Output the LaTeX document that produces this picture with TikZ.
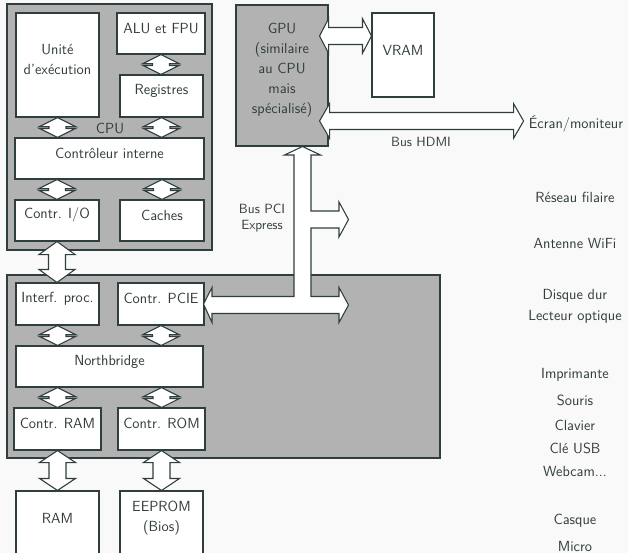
\documentclass[tikz,border=0pt]{standalone}
\usepackage{fontspec}
\usetikzlibrary{calc,fit}
\definecolor{bgc}{RGB}{249,249,249}
\definecolor{ln}{RGB}{47,62,62}
\definecolor{txt}{RGB}{50,60,60}
\definecolor{grayf}{RGB}{178,178,178}
\newcommand\vdarrow[3]{%
  \draw[dbl] let \p1=(#2), \p2=(#3) in
    (\x1,\y1) -- (\x1+13.5pt,\y1-#1*0.75pt) -- (\x1+6.375pt,\y1-#1*0.75pt)
    -- (\x1+6.375pt,\y2+#1*0.75pt) -- (\x1+13.5pt,\y2+#1*0.75pt) -- (\x1,\y2)
    -- (\x1-13.5pt,\y2+#1*0.75pt) -- (\x1-6.375pt,\y2+#1*0.75pt)
    -- (\x1-6.375pt,\y1-#1*0.75pt) -- (\x1-13.5pt,\y1-#1*0.75pt) -- cycle;}
\newcommand\hdarrow[3]{%
  \draw[dbl] let \p1=(#2), \p2=(#3) in
    (\x1,\y1) -- (\x1+#1*0.75pt,\y1+13pt) -- (\x1+#1*0.75pt,\y1+6.375pt)
    -- (\x2-#1*0.75pt,\y1+6.375pt) -- (\x2-#1*0.75pt,\y1+13pt) -- (\x2,\y1)
    -- (\x2-#1*0.75pt,\y1-13pt) -- (\x2-#1*0.75pt,\y1-6.375pt)
    -- (\x1+#1*0.75pt,\y1-6.375pt) -- (\x1+#1*0.75pt,\y1-13pt) -- cycle;}
\begin{document}
\begin{tikzpicture}[x=0.75pt,y=-0.75pt,
  every node/.style={font=\sffamily\fontsize{11}{15}\selectfont, text=txt},
  box/.style={draw=ln, line width=0.8pt, fill=white, inner sep=0pt, align=center},
  grp/.style={draw=ln, line width=0.8pt, fill=grayf, inner sep=0pt, align=center},
  dbl/.style={draw=ln, line width=0.8pt, fill=white, line join=miter},
  lbl/.style={inner sep=0pt, align=center},
  small/.style={font=\sffamily\fontsize{10}{12}\selectfont}]
\clip (0,0) rectangle (628,553);
\fill[bgc] (0,0) rectangle (628,553);

% CPU
\node[grp, fit={(7,4)(212,250)}] (cpu) {};
\node[box, fit={(16,13)(99,117)}] (unite) {Unité\\d'exécution};
\node[box, fit={(117,13)(205,54)}] (alu) {ALU et FPU};
\node[box, fit={(120,75)(203,117)}] (reg) {Registres};
\node[box, fit={(15,138)(204,179)}] (ctrlint) {Contrôleur interne};
\node[box, fit={(15,200)(99,241)}] (ctrlio) {Contr. I/O};
\node[box, fit={(120,200)(204,241)}] (caches) {Caches};
\node[lbl] (cpulbl) at (110,128) {CPU};

% chipset
\node[grp, fit={(7,275)(440,458)}] (chipset) {};
\node[box, fit={(16,283)(99,325)}] (interf) {Interf. proc.};
\node[box, fit={(118,283)(204,325)}] (pcie) {Contr. PCIE};
\node[box, fit={(16,346)(203,387)}] (north) {Northbridge};
\node[box, fit={(14,408)(101,450)}] (cram) {Contr. RAM};
\node[box, fit={(118,408)(205,450)}] (crom) {Contr. ROM};
\node[box, fit={(16,491)(99,556)}] (ram) {RAM};
\node[box, fit={(120,491)(203,556)}] (eeprom) {EEPROM\\(Bios)};

% GPU
\node[grp, fit={(236,5)(328,146)}] (gpu) {GPU\\(similaire\\au CPU\\mais\\spécialisé)};
\node[box, fit={(372,13)(434,97)}] (vram) {VRAM};

% right labels
\node[lbl] (ecran) at (576,124) {Écran/moniteur};
\node[lbl] (reseau) at (575,197) {Réseau filaire};
\node[lbl] (wifi) at (575,243) {Antenne WiFi};
\node[lbl] (disque) at (575,296) {Disque dur};
\node[lbl] (lecteur) at (575,317) {Lecteur optique};
\node[lbl] (impr) at (575,375) {Imprimante};
\node[lbl] (souris) at (575,400) {Souris};
\node[lbl] (clavier) at (575,425) {Clavier};
\node[lbl] (usb) at (575,448) {Clé USB};
\node[lbl] (webcam) at (575,471) {Webcam...};
\node[lbl] (casque) at (575,521) {Casque};
\node[lbl] (micro) at (575,546) {Micro};

\node[lbl, small] (hdmilbl) at (421,142) {Bus HDMI};
\node[lbl, small] (pcilbl) at (262,218) {Bus PCI\\Express};

% small arrows in CPU
\vdarrow{9}{alu.south}{reg.north -| alu.south}
\vdarrow{9}{unite.south}{ctrlint.north -| unite.south}
\vdarrow{9}{reg.south}{ctrlint.north -| reg.south}
\vdarrow{9}{ctrlint.south -| ctrlio.north}{ctrlio.north}
\vdarrow{9}{ctrlint.south -| caches.north}{caches.north}
% CPU <-> chipset
\vdarrow{13}{ctrlio.south}{interf.north -| ctrlio.south}
% chipset arrows
\vdarrow{9}{interf.south}{north.north -| interf.south}
\vdarrow{9}{pcie.south}{north.north -| pcie.south}
\vdarrow{9}{north.south -| cram.north}{cram.north}
\vdarrow{9}{north.south -| crom.north}{crom.north}
\vdarrow{12}{cram.south}{ram.north -| cram.south}
\vdarrow{12}{crom.south}{eeprom.north -| crom.south}

% GPU arrows
\coordinate (vramL) at ($(gpu.north east)+(-9,31.5)$);
\coordinate (vramR) at (vram.west |- vramL);
\hdarrow{9}{vramL}{vramR}
\coordinate (hdmiL) at ($(gpu.north east)+(-9,116.5)$);
\coordinate (hdmiR) at ($(ecran.west |- hdmiL)+(-5,0)$);
\hdarrow{10}{hdmiL}{hdmiR}

% PCI Express bus
\coordinate (pcieL) at ($(pcie.east)+(-1,0)$);
\coordinate (pcieT) at (gpu.south -| 302.5,0);
\draw[dbl] (pcieL) -- (212,287.5) -- (212,296.5) -- (294,296.5) -- (294,155)
  -- (284.5,155) -- (pcieT) -- (320.5,155) -- (311,155) -- (311,211)
  -- (339,211) -- (339,202) -- (348.5,219.5) -- (339,237) -- (339,228)
  -- (311,228) -- (311,296.5) -- (339,296.5) -- (339,287.5) -- (348.5,305)
  -- (339,322.5) -- (339,313.5) -- (212,313.5) -- (212,322.5) -- cycle;
\end{tikzpicture}
\end{document}
